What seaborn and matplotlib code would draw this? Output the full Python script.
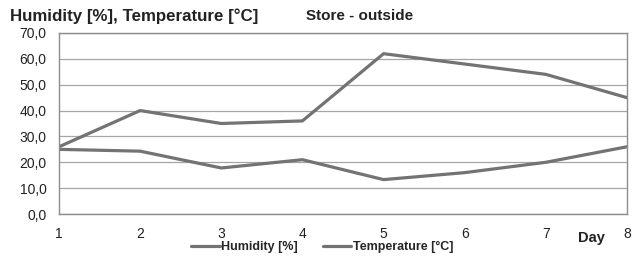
import matplotlib
matplotlib.use("Agg")
import matplotlib.pyplot as plt
import seaborn as sns
import pandas as pd

days = [1, 2, 3, 4, 5, 6, 7, 8]
humidity = [26.0, 40.0, 35.0, 36.0, 62.0, 58.0, 54.0, 45.0]
temperature = [25.0, 24.3, 17.8, 21.0, 13.3, 16.0, 20.0, 26.0]
series_names = ["Humidity [%]", "Temperature [°C]"]
y_ticks = [0, 10, 20, 30, 40, 50, 60, 70]

df = pd.DataFrame({
    "Day": days * 2,
    "Value": humidity + temperature,
    "Series": [series_names[0]] * len(days) + [series_names[1]] * len(days),
})

sns.set_theme(style="white")
plt.rcParams["font.family"] = ["Liberation Sans", "DejaVu Sans"]

fig = plt.figure(figsize=(6.4, 2.58), dpi=100)
ax = fig.add_axes([59 / 640, 1 - 214 / 258, (627 - 59) / 640, (214 - 33) / 258])

line_col = "#737373"
sns.lineplot(data=df, x="Day", y="Value", hue="Series",
             palette=[line_col, line_col], linewidth=2.3, ax=ax, legend=True)

ax.set_xlim(1, 8)
ax.set_ylim(0, 70)
ax.set_yticks(y_ticks)
ax.set_yticklabels([f"{v:.1f}".replace(".", ",") for v in y_ticks], fontsize=10, color="#222222")
ax.set_xticks(days)
ax.set_xticklabels([str(d) for d in days], fontsize=10, color="#222222")
ax.yaxis.grid(True, color="#a6a6a6", linewidth=0.9)
ax.xaxis.grid(False)
ax.set_xlabel("")
ax.set_ylabel("")
for s in ax.spines.values():
    s.set_color("#8c8c8c")
    s.set_linewidth(1.0)
ax.tick_params(axis="y", length=0, pad=9)
ax.tick_params(axis="x", length=0, pad=9)

fig.text(10 / 640, 1 - 16 / 258, "Humidity [%], Temperature [°C]",
         fontsize=12.2, fontweight="bold", va="center", ha="left", color="#222222")
fig.text(306 / 640, 1 - 16 / 258, "Store - outside",
         fontsize=11, fontweight="bold", va="center", ha="left", color="#222222")
fig.text(578 / 640, 1 - 238 / 258, "Day",
         fontsize=10.5, fontweight="bold", va="center", ha="left", color="#222222")

leg = ax.legend(loc="center", bbox_to_anchor=(322 / 640, 1 - 247 / 258),
                bbox_transform=fig.transFigure, ncol=2, frameon=False,
                prop={"weight": "bold", "size": 9}, handlelength=2.3,
                handletextpad=0.1, columnspacing=2.0, borderpad=0)

fig.savefig("out.png", dpi=100)
